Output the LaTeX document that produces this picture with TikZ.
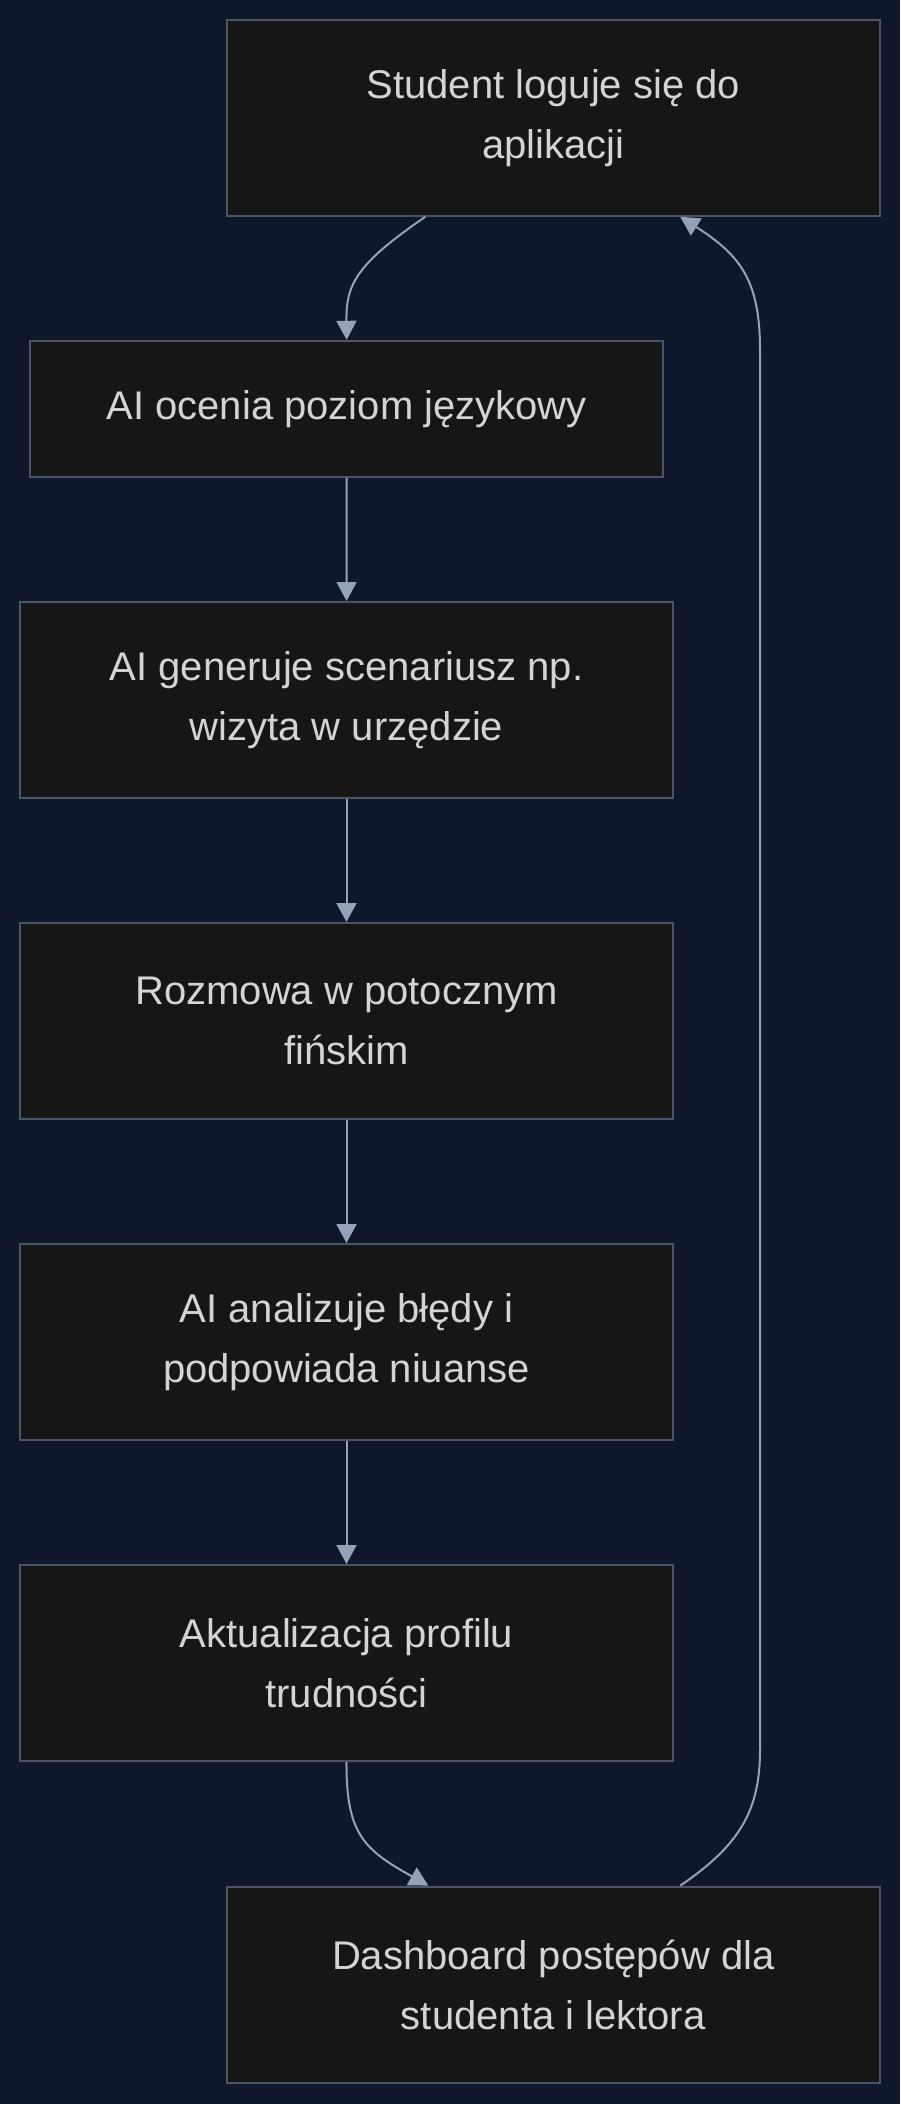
\documentclass[tikz,border=0pt]{standalone}
\usepackage{fontspec}
\setmainfont{Liberation Sans}
\usetikzlibrary{arrows.meta}
\definecolor{bgcol}{HTML}{0F172A}
\definecolor{boxfill}{HTML}{161616}
\definecolor{boxline}{HTML}{4A5568}
\definecolor{edgecol}{HTML}{94A3B8}
\definecolor{textcol}{HTML}{D4D4D4}

\begin{document}
\begin{tikzpicture}[x=1pt, y=-1pt]
\tikzstyle{stepbox}=[rectangle, draw=boxline, fill=boxfill, line width=2pt, inner sep=0pt,
  text=textcol, align=center, font=\fontsize{40}{60}\selectfont]
\tikzstyle{link}=[draw=edgecol, line width=2pt, -{Triangle[length=19pt, width=20pt]}]

% Background
\fill [bgcol] (0, 0) rectangle (900, 2104);

% Steps
\node at (553.3, 117.8) [stepbox, minimum width=653pt, minimum height=196pt] (login) {Student loguje się do\\aplikacji};
\node at (346.7, 408.8) [stepbox, minimum width=633pt, minimum height=136pt] (level) {AI ocenia poziom językowy};
\node at (346.5, 700) [stepbox, minimum width=653pt, minimum height=196pt] (scenario) {AI generuje scenariusz np.\\wizyta w urzędzie};
\node at (346.5, 1021) [stepbox, minimum width=653pt, minimum height=196pt] (talk) {Rozmowa w potocznym\\fińskim};
\node at (346.5, 1342) [stepbox, minimum width=653pt, minimum height=196pt] (errors) {AI analizuje błędy i\\podpowiada niuanse};
\node at (346.5, 1663) [stepbox, minimum width=653pt, minimum height=196pt] (profile) {Aktualizacja profilu\\trudności};
\node at (553.3, 1984.6) [stepbox, minimum width=653pt, minimum height=196pt] (dash) {Dashboard postępów dla\\studenta i lektora};

% Loop corners
\coordinate (loopbot) at (760, 1750);
\coordinate (looptop) at (760, 350);

% Flow
\draw [link] ([xshift=-128pt]login.south) .. controls (355, 265) and (346, 285) .. (level.north);
\foreach \a/\b in {level/scenario, scenario/talk, talk/errors, errors/profile}
\draw [link] (\a) to (\b);
\draw [link] (profile.south) .. controls (346, 1835) and (365, 1850) .. ([xshift=-125pt]dash.north);

% Back to start
\draw [link] ([xshift=127pt]dash.north) .. controls (740, 1845) and (760, 1810) .. (loopbot)
  -- (looptop) .. controls (760, 280) and (740, 255) .. ([xshift=127pt]login.south);
\end{tikzpicture}
\end{document}
